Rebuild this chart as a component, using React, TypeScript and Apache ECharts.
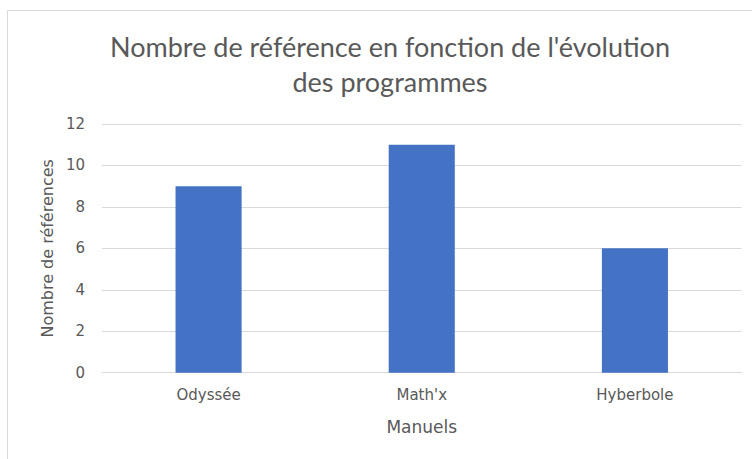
import React, { useEffect, useRef } from "react";
import * as echarts from "echarts";

const categories = ["Odyssée", "Math'x", "Hyberbole"];
const references = [9, 11, 6];
const yTicks = { min: 0, max: 12, interval: 2 };
const titleText = "Nombre de référence en fonction de l'évolution\ndes programmes";
const xName = "Manuels";
const yName = "Nombre de références";

const TITLE_FONT = "Lato, 'Liberation Sans', sans-serif";
const FONT = "'DejaVu Sans', sans-serif";
const GRAY = "#595959";

export default function App() {
  const ref = useRef<HTMLDivElement>(null);
  useEffect(() => {
    if (!ref.current) return;
    const chart = echarts.init(ref.current, null, { renderer: "svg" });
    chart.setOption({
      animation: false,
      backgroundColor: "#ffffff",
      graphic: [
        {
          type: "rect",
          shape: { x: 7.5, y: 10.5, width: 800, height: 500 },
          style: { fill: "none", stroke: "#d9d9d9", lineWidth: 1 },
          silent: true,
        },
      ],
      title: {
        text: titleText,
        left: 385,
        top: 24,
        textAlign: "center",
        textStyle: {
          fontFamily: TITLE_FONT,
          fontSize: 27,
          fontWeight: "normal",
          color: GRAY,
          lineHeight: 35,
        },
      },
      grid: { left: 102, right: 10.5, top: 124, bottom: 86.3 },
      xAxis: {
        type: "category",
        data: categories,
        name: xName,
        nameLocation: "middle",
        nameGap: 46,
        nameTextStyle: { fontFamily: FONT, fontSize: 17, color: GRAY },
        axisLine: { lineStyle: { color: "#d9d9d9" } },
        axisTick: { show: false },
        axisLabel: { fontFamily: FONT, fontSize: 15, color: GRAY, margin: 15 },
      },
      yAxis: {
        type: "value",
        min: yTicks.min,
        max: yTicks.max,
        interval: yTicks.interval,
        name: yName,
        nameLocation: "middle",
        nameGap: 47,
        nameRotate: 90,
        nameTextStyle: { fontFamily: FONT, fontSize: 16, color: GRAY },
        axisLine: { show: false },
        axisTick: { show: false },
        axisLabel: { fontFamily: FONT, fontSize: 15, color: GRAY, margin: 17 },
        splitLine: { lineStyle: { color: "#d9d9d9" } },
      },
      series: [
        {
          type: "bar",
          data: references,
          barWidth: "31%",
          itemStyle: { color: "#4472C4" },
        },
      ],
    });
    return () => chart.dispose();
  }, []);
  return (
    <div
      ref={ref}
      style={{ position: "absolute", left: 0, top: 0, width: 752, height: 459 }}
    />
  );
}
